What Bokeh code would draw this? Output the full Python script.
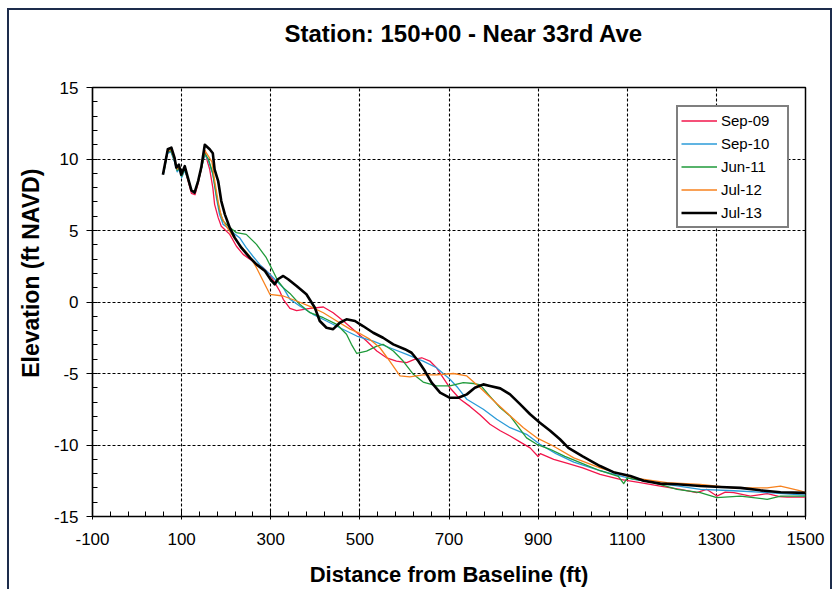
from bokeh.plotting import figure
from bokeh.models import Legend, LegendItem, FixedTicker, ColumnDataSource, Title
from bokeh.embed import file_html
from bokeh.resources import INLINE

# ---------------- data ----------------
sep09_x = [60, 68, 76, 84, 90, 95, 100, 107, 114, 122, 130, 137, 144, 152, 158, 163, 170, 174, 182, 189,
           208, 223, 238, 253, 268, 283, 298, 309, 320, 328, 343, 358, 388, 418, 440, 463, 489, 515, 538, 560,
           582, 605, 624, 639, 657, 672, 687, 702, 725, 747, 770, 792, 815, 837, 860, 882, 900, 905, 935, 968,
           1000, 1039, 1084, 1129, 1174, 1219, 1256, 1278, 1301, 1320, 1339, 1376, 1414, 1440, 1459, 1500]
sep09_y = [9.2, 10.5, 10.6, 9.9, 9.2, 9.4, 8.8, 9.3, 8.5, 7.6, 7.5, 8.3, 9.3, 10.6, 9.8, 9.28, 8.0, 6.83, 5.9, 5.3,
           4.73, 3.9, 3.33, 3.0, 2.63, 2.4, 1.94, 1.35, 0.77, 0.19, -0.45, -0.6, -0.44, -0.35, -0.75, -1.33, -2.03, -2.73, -3.43, -3.9,
           -4.13, -4.24, -4.0, -3.9, -4.13, -4.6, -5.3, -6.0, -6.8, -7.3, -7.9, -8.55, -9.0, -9.37, -9.8, -10.2, -10.8, -10.6, -11.0, -11.3,
           -11.6, -12.05, -12.4, -12.63, -12.87, -13.1, -13.33, -13.1, -13.57, -13.3, -13.33, -13.57, -13.4, -13.6, -13.64, -13.64]

sep10_x = [60, 68, 76, 84, 90, 95, 100, 107, 114, 122, 130, 137, 144, 152, 159, 170, 178, 185, 193, 204,
           215, 230, 245, 260, 275, 298, 328, 343, 365, 395, 425, 455, 493, 530, 567, 605, 642, 672, 702, 720,
           740, 777, 807, 837, 874, 904, 940, 980, 1039, 1114, 1189, 1264, 1339, 1414, 1500]
sep10_y = [9.0, 10.4, 10.5, 9.8, 9.1, 9.3, 8.7, 9.2, 8.6, 7.8, 7.7, 8.4, 9.3, 10.3, 9.98, 8.93, 7.3, 6.13, 5.43, 5.2,
           4.85, 4.5, 3.8, 3.2, 2.63, 1.94, 1.0, 0.2, -0.28, -0.86, -1.33, -1.8, -2.38, -2.73, -3.2, -3.66, -4.13, -4.6, -5.4, -6.0,
           -6.8, -7.5, -8.2, -8.79, -9.25, -9.95, -10.6, -11.2, -11.8, -12.4, -12.75, -13.1, -13.2, -13.33, -13.5]

jun11_x = [60, 68, 76, 84, 90, 95, 100, 107, 114, 122, 130, 137, 144, 152, 160, 170, 178, 185, 193, 208,
           223, 245, 268, 290, 305, 316, 328, 343, 365, 388, 418, 448, 470, 481, 493, 515, 538, 552, 575, 597,
           620, 642, 672, 702, 732, 755, 770, 792, 815, 837, 874, 897, 927, 960, 1000, 1039, 1080, 1092, 1100, 1159,
           1212, 1264, 1301, 1354, 1414, 1444, 1500]
jun11_y = [9.1, 10.5, 10.6, 9.9, 9.2, 9.4, 8.8, 9.3, 8.6, 7.8, 7.7, 8.4, 9.3, 10.4, 10.0, 9.0, 7.5, 6.4, 5.66, 5.2,
           4.85, 4.73, 4.03, 3.1, 2.17, 1.47, 1.0, 0.6, -0.16, -0.75, -1.1, -1.56, -2.26, -2.96, -3.6, -3.43, -3.08, -2.96, -3.43, -4.13,
           -5.06, -5.6, -5.87, -5.87, -5.64, -5.7, -5.8, -6.6, -7.4, -7.97, -9.5, -9.95, -10.3, -10.8, -11.3, -11.8, -12.2, -12.7, -12.3, -12.63,
           -13.1, -13.33, -13.68, -13.57, -13.8, -13.57, -13.57]

jul12_x = [60, 68, 76, 84, 90, 95, 100, 107, 114, 122, 130, 137, 144, 152, 160, 168, 174, 182, 189, 200,
           215, 230, 253, 268, 283, 298, 328, 358, 388, 418, 448, 478, 500, 522, 545, 567, 590, 612, 642, 672,
           710, 740, 770, 807, 837, 867, 897, 934, 980, 1039, 1114, 1189, 1264, 1339, 1414, 1444, 1489, 1500]
jul12_y = [9.1, 10.5, 10.7, 10.0, 9.3, 9.5, 8.9, 9.4, 8.6, 7.8, 7.7, 8.4, 9.3, 10.6, 10.2, 9.8, 8.5, 7.0, 6.0, 5.3,
           4.6, 4.0, 3.2, 2.4, 1.47, 0.54, 0.42, 0.07, -0.3, -0.75, -1.33, -1.9, -2.2, -2.6, -3.2, -4.13, -5.17, -5.24, -5.1, -5.1,
           -5.0, -5.17, -6.0, -7.1, -7.95, -8.8, -9.5, -10.07, -10.9, -11.6, -12.3, -12.63, -12.75, -13.0, -13.0, -12.87, -13.2, -13.33]

jul13_x = [58, 69, 77, 84, 88, 94, 99, 107, 114, 122, 129, 137, 144, 152, 163, 170, 174, 182, 189, 197,
           208, 219, 234, 253, 268, 287, 302, 309, 316, 328, 339, 358, 380, 399, 410, 425, 440, 455, 470, 489,
           507, 530, 552, 575, 601, 616, 631, 646, 661, 680, 702, 721, 740, 758, 777, 792, 815, 837, 860, 882,
           904, 927, 949, 968, 1000, 1039, 1069, 1107, 1137, 1174, 1212, 1264, 1309, 1354, 1399, 1444, 1500]
jul13_y = [8.9, 10.68, 10.8, 10.1, 9.4, 9.6, 8.9, 9.5, 8.7, 7.8, 7.65, 8.46, 9.4, 11.0, 10.68, 10.4, 9.28, 8.46, 7.06, 6.13,
           5.2, 4.5, 3.8, 3.1, 2.63, 2.17, 1.47, 1.24, 1.59, 1.82, 1.59, 1.12, 0.54, -0.4, -1.33, -1.8, -1.9, -1.45, -1.21, -1.33,
           -1.68, -2.15, -2.5, -2.96, -3.3, -3.55, -4.13, -4.83, -5.64, -6.34, -6.7, -6.7, -6.46, -6.0, -5.76, -5.87, -6.04, -6.46, -7.16, -7.85,
           -8.44, -9.0, -9.6, -10.2, -10.8, -11.47, -11.9, -12.17, -12.5, -12.7, -12.75, -12.87, -12.94, -13.0, -13.17, -13.3, -13.35]

series_names = ["Sep-09", "Sep-10", "Jun-11", "Jul-12", "Jul-13"]
x_ticks = [-100, 100, 300, 500, 700, 900, 1100, 1300, 1500]
y_ticks = [-15, -10, -5, 0, 5, 10, 15]
title_text = "Station: 150+00 - Near 33rd Ave"

# ---------------- figure ----------------
FONT = "'Liberation Sans', Arial, sans-serif"

p = figure(width=825, height=581, x_range=(-100, 1500), y_range=(-15, 15),
           output_backend="svg", toolbar_location=None, title_location=None,
           min_border_left=83, min_border_right=29, min_border_top=77, min_border_bottom=75)
p.styles = {"border": "2px solid #1d2c4c", "border-bottom": "none",
            "margin-left": "7px", "margin-top": "8px"}
p.background_fill_color = "white"
p.border_fill_color = "white"
p.outline_line_color = "black"
p.outline_line_width = 1.5

# invisible spacer (nearest the frame) pushes the real title up
spacer = Title(text="\u00a0", text_font_size="12px", standoff=25, text_color="white")
p.add_layout(spacer, "above")
main_title = Title(text=title_text, align="left", offset=192, vertical_align="bottom", standoff=0,
                   text_font=FONT, text_font_style="bold", text_font_size="24px", text_color="black")
p.add_layout(main_title, "above")

for ax in (p.xaxis[0], p.yaxis[0]):
    ax.axis_line_color = "black"
    ax.axis_line_width = 1.2
    ax.major_tick_line_color = "black"
    ax.minor_tick_line_color = "black"
    ax.major_label_text_font = FONT
    ax.major_label_text_font_size = "17px"
    ax.major_label_text_color = "black"
    ax.axis_label_text_font = FONT
    ax.axis_label_text_font_style = "bold"
    ax.axis_label_text_color = "black"

p.xaxis[0].ticker = FixedTicker(ticks=x_ticks, minor_ticks=list(range(-100, 1501, 40)))
p.yaxis[0].ticker = FixedTicker(ticks=y_ticks, minor_ticks=list(range(-15, 16, 1)))
p.xaxis[0].major_label_overrides = {t: str(t) for t in x_ticks}
p.yaxis[0].major_label_overrides = {t: str(t) for t in y_ticks}
p.xaxis.axis_label = "Distance from Baseline (ft)"
# leading no-break spaces lift the label, which sits above the axis centre in the original
p.yaxis.axis_label = "\u00a0" * 9 + "Elevation (ft NAVD)"
p.xaxis.axis_label_text_font_size = "22px"
p.yaxis.axis_label_text_font_size = "23px"
p.xaxis.major_tick_in = 6
p.xaxis.major_tick_out = 3
p.xaxis.minor_tick_in = 5
p.xaxis.minor_tick_out = 0
p.yaxis.major_tick_in = 0
p.yaxis.major_tick_out = 6
p.yaxis.minor_tick_in = 5
p.yaxis.minor_tick_out = 0
p.xaxis.major_label_standoff = 13
p.yaxis.major_label_standoff = 8
p.xaxis.axis_label_standoff = 14
p.yaxis.axis_label_standoff = 7

for g in (p.xgrid[0], p.ygrid[0]):
    g.grid_line_color = "black"
    g.grid_line_dash = "3 2"
    g.grid_line_width = 1.1
p.xgrid[0].ticker = FixedTicker(ticks=x_ticks)
p.ygrid[0].ticker = FixedTicker(ticks=y_ticks)

colors = ["#f2164b", "#2b9bd8", "#1f9a3a", "#f7821e", "#000000"]
widths = [1.3, 1.3, 1.3, 1.3, 2.6]
data = [(sep09_x, sep09_y), (sep10_x, sep10_y), (jun11_x, jun11_y), (jul12_x, jul12_y), (jul13_x, jul13_y)]

items = []
for name, (xs, ys), c, w in zip(series_names, data, colors, widths):
    src = ColumnDataSource(dict(x=xs, y=ys))
    r = p.line("x", "y", source=src, line_color=c, line_width=w, line_join="round")
    items.append(LegendItem(label=name, renderers=[r]))

legend = Legend(items=items, location=(584, 288), orientation="vertical",
                border_line_color="black", border_line_width=2.5,
                background_fill_color="white", background_fill_alpha=1.0,
                label_text_font=FONT, label_text_font_size="15px", label_text_color="black",
                glyph_width=36, glyph_height=21, label_height=21, label_width=63, label_standoff=4,
                spacing=2, padding=3, margin=0)
p.add_layout(legend, "center")

open("out.html", "w").write(file_html(p, INLINE))
